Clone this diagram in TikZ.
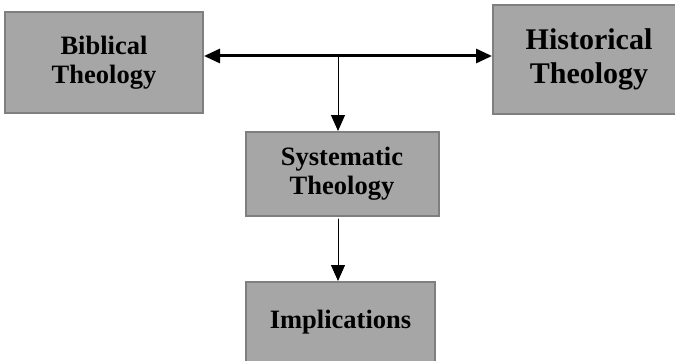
\documentclass[tikz,border=0pt]{standalone}
\usepackage{fontspec}
\setmainfont{Liberation Serif}
\usetikzlibrary{arrows.meta}
\definecolor{boxfill}{HTML}{A6A6A6}
\definecolor{boxedge}{HTML}{7F7F7F}
\tikzset{
  theobox/.style={draw=boxedge,fill=boxfill,line width=2pt,align=center,inner sep=0pt,
    font=\bfseries\fontsize{26.5}{29}\selectfont}
}
\begin{document}
\begin{tikzpicture}[line cap=round,>={Triangle[length=16pt,width=14pt]},x=1pt,y=-1pt]
\useasboundingbox (0,0) rectangle (675,361);
\node[theobox,minimum width=198pt,minimum height=101pt] (bib) at (104,62.5) {Biblical\\Theology};
\node[theobox,minimum width=192pt,minimum height=109pt,font=\bfseries\fontsize{30}{34}\selectfont] (hist) at (589,59.5) {Historical\\Theology};
\node[theobox,minimum width=193pt,minimum height=84pt] (sys) at (342,174) {Systematic\\Theology};
\node[theobox,minimum width=189pt,minimum height=80pt] (imp) at (340.5,322) {Implications};
\coordinate (top) at (338,56);
\draw[<->,line width=3pt] (bib.east |- top) -- (hist.west |- top);
%\draw[->] (top) -- (sys.north);
\draw[->,line width=1pt] (top) -- (top |- sys.north);
\draw[->,line width=1pt] ([yshift=-2pt]top |- sys.south) -- (top |- imp.north);
\end{tikzpicture}
\end{document}
